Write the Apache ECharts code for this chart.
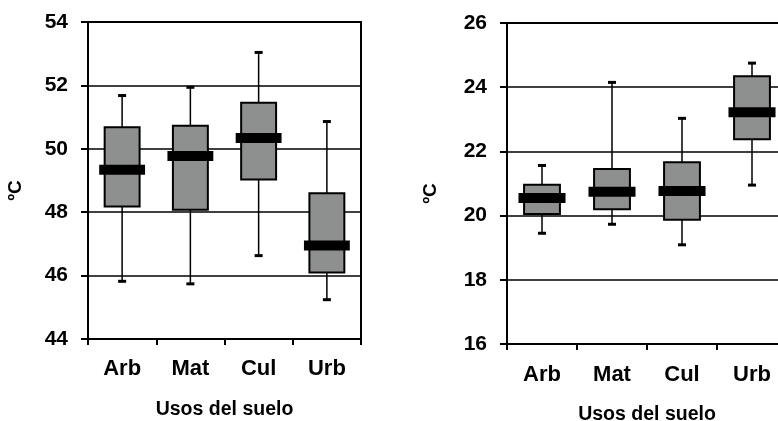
<!DOCTYPE html>
<html>
<head>
<meta charset="utf-8">
<script src="https://cdn.jsdelivr.net/npm/echarts@6/dist/echarts.min.js"></script>
<style>
html,body{margin:0;padding:0;background:#fff;}
#c{width:778px;height:421px;}
</style>
</head>
<body>
<div id="c"></div>
<script>
// Data
var categories = ['Arb', 'Mat', 'Cul', 'Urb'];
// [min, q1, median, q3, max]
var leftArb = [45.82, 48.18, 49.34, 50.68, 51.68];
var leftMat = [45.74, 48.08, 49.77, 50.73, 51.94];
var leftCul = [46.63, 49.03, 50.34, 51.45, 53.04];
var leftUrb = [45.24, 46.10, 46.95, 48.60, 50.86];
var rightArb = [19.45, 20.05, 20.55, 20.96, 21.56];
var rightMat = [19.73, 20.20, 20.74, 21.45, 24.15];
var rightCul = [19.09, 19.87, 20.77, 21.66, 23.03];
var rightUrb = [20.95, 22.38, 23.22, 24.34, 24.75];
var leftTicks = [44, 46, 48, 50, 52, 54];
var rightTicks = [16, 18, 20, 22, 24, 26];
var xTitle = 'Usos del suelo';
var yTitle = 'ºC';

function rows(list) {
  return list.map(function (v, i) { return [i].concat(v); });
}
var leftData = rows([leftArb, leftMat, leftCul, leftUrb]);
var rightData = rows([rightArb, rightMat, rightCul, rightUrb]);

var FONT = '"Liberation Sans", Arial, sans-serif';
var BOXFILL = '#8e8f8f';

function renderBox(params, api) {
  var x = api.value(0);
  var pMin = api.coord([x, api.value(1)]);
  var pQ1 = api.coord([x, api.value(2)]);
  var pMed = api.coord([x, api.value(3)]);
  var pQ3 = api.coord([x, api.value(4)]);
  var pMax = api.coord([x, api.value(5)]);
  var band = api.size([1, 0])[0];
  var cx = pMed[0];
  var bw = band * 0.512;
  var mw = band * 0.672;
  var capW = 8, capH = 3, medH = 10;
  return {
    type: 'group',
    children: [
      { type: 'line', shape: { x1: cx, y1: pMax[1], x2: cx, y2: pMin[1] },
        style: { stroke: '#000', lineWidth: 1.5 } },
      { type: 'rect', shape: { x: cx - capW / 2, y: pMax[1] - capH / 2, width: capW, height: capH },
        style: { fill: '#000' } },
      { type: 'rect', shape: { x: cx - capW / 2, y: pMin[1] - capH / 2, width: capW, height: capH },
        style: { fill: '#000' } },
      { type: 'rect', shape: { x: cx - bw / 2, y: pQ3[1], width: bw, height: pQ1[1] - pQ3[1] },
        style: { fill: BOXFILL, stroke: '#000', lineWidth: 2 } },
      { type: 'rect', shape: { x: cx - mw / 2, y: pMed[1] - medH / 2, width: mw, height: medH },
        style: { fill: '#000' } }
    ]
  };
}

function xAxisDef(gridIndex, labelMargin, nameGap) {
  return {
    type: 'category', gridIndex: gridIndex, data: categories,
    boundaryGap: true,
    axisLine: { show: true, lineStyle: { color: '#000', width: 2 } },
    axisTick: { show: true, length: 6, lineStyle: { color: '#000', width: 2 } },
    axisLabel: { margin: labelMargin, color: '#000', fontSize: 22, fontWeight: 'bold', fontFamily: FONT },
    name: xTitle, nameLocation: 'middle', nameGap: nameGap,
    nameTextStyle: { color: '#000', fontSize: 19.5, fontWeight: 'bold', fontFamily: FONT },
    splitLine: { show: false }
  };
}
function yAxisDef(gridIndex, ticks, nameGap) {
  return {
    type: 'value', gridIndex: gridIndex,
    min: ticks[0], max: ticks[ticks.length - 1], interval: ticks[1] - ticks[0],
    axisLine: { show: true, lineStyle: { color: '#000', width: 2 } },
    axisTick: { show: true, length: 7, lineStyle: { color: '#000', width: 2 } },
    axisLabel: { margin: 20, color: '#000', fontSize: 21, fontWeight: 'bold', fontFamily: FONT },
    splitLine: { show: true, lineStyle: { color: '#000', width: 1.5 } },
    name: yTitle, nameLocation: 'middle', nameGap: nameGap, nameRotate: 90,
    nameTextStyle: { color: '#000', fontSize: 19, fontWeight: 'bold', fontFamily: FONT, padding: [0, 20, 0, 0] }
  };
}

var chart = echarts.init(document.getElementById('c'), null, { renderer: 'canvas' });
chart.setOption({
  backgroundColor: '#fff',
  animation: false,
  grid: [
    { left: 88, top: 22, width: 273, height: 317, show: true, borderColor: '#000', borderWidth: 2,
      backgroundColor: 'transparent', containLabel: false, outerBoundsMode: 'none' },
    { left: 507, top: 23, width: 280, height: 321, show: true, borderColor: '#000', borderWidth: 2,
      backgroundColor: 'transparent', containLabel: false, outerBoundsMode: 'none' }
  ],
  xAxis: [xAxisDef(0, 19, 61), xAxisDef(1, 20, 61)],
  yAxis: [yAxisDef(0, leftTicks, 63), yAxisDef(1, rightTicks, 67)],
  series: [
    { type: 'custom', xAxisIndex: 0, yAxisIndex: 0, renderItem: renderBox, data: leftData,
      encode: { x: 0, y: [1, 2, 3, 4, 5] } },
    { type: 'custom', xAxisIndex: 1, yAxisIndex: 1, renderItem: renderBox, data: rightData,
      encode: { x: 0, y: [1, 2, 3, 4, 5] } }
  ]
});
</script>
</body>
</html>
